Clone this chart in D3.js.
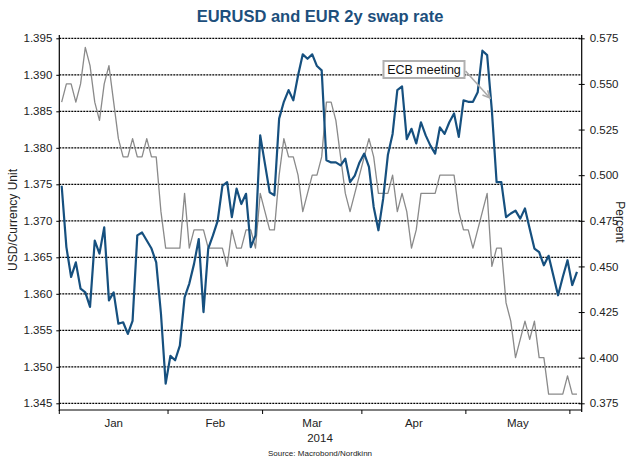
<!DOCTYPE html>
<html>
<head>
<meta charset="utf-8">
<script src="https://cdn.jsdelivr.net/npm/d3@7/dist/d3.min.js"></script>
<style>
  html, body { margin: 0; padding: 0; background: #fff; }
  svg { display: block; font-family: "Liberation Sans", Arial, sans-serif; }
</style>
</head>
<body>
<svg id="chart" width="631" height="460"></svg>
<script>
// ---- Data (business days from 2014-01-01) ----
const eurusd = [
  1.3748, 1.3664, 1.3623, 1.3643, 1.3607, 1.3602, 1.3582, 1.3673, 1.3655, 1.3691,
  1.3591, 1.3602, 1.3559, 1.3561, 1.3545, 1.3563, 1.3680, 1.3684, 1.3673, 1.3662,
  1.3643, 1.3573, 1.3477, 1.3515, 1.3509, 1.3529, 1.3595, 1.3614, 1.3641, 1.3675,
  1.3575, 1.3662, 1.3680, 1.3700, 1.3748, 1.3753, 1.3705, 1.3744, 1.3723, 1.3737,
  1.3664, 1.3680, 1.3817, 1.3778, 1.3739, 1.3735, 1.3840, 1.3863, 1.3879, 1.3865,
  1.3899, 1.3928, 1.3922, 1.3928, 1.3912, 1.3906, 1.3783, 1.3780, 1.3780, 1.3776,
  1.3785, 1.3753, 1.3762, 1.3780, 1.3792, 1.3774, 1.3719, 1.3687, 1.3730, 1.3790,
  1.3819, 1.3879, 1.3884, 1.3812, 1.3826, 1.3806, 1.3835, 1.3817, 1.3803, 1.3792,
  1.3828, 1.3819, 1.3835, 1.3847, 1.3815, 1.3865, 1.3863, 1.3863, 1.3876, 1.3933,
  1.3927, 1.3851, 1.3753, 1.3753, 1.3705, 1.3710, 1.3714, 1.3703, 1.3717, 1.3689,
  1.3662, 1.3657, 1.3639, 1.3652, 1.3625, 1.3598, 1.3623, 1.3646, 1.3612, 1.3630
];
const swap2y = [
  0.54, 0.55, 0.55, 0.54, 0.55, 0.57, 0.56, 0.54, 0.53, 0.55,
  0.56, 0.54, 0.52, 0.51, 0.51, 0.52, 0.51, 0.51, 0.52, 0.51,
  0.51, 0.48, 0.46, 0.46, 0.46, 0.46, 0.49, 0.46, 0.47, 0.47,
  0.47, 0.46, 0.46, 0.46, 0.46, 0.45, 0.47, 0.46, 0.46, 0.47,
  0.47, 0.46, 0.49, 0.48, 0.47, 0.47, 0.50, 0.52, 0.51, 0.51,
  0.50, 0.48, 0.49, 0.50, 0.50, 0.51, 0.54, 0.54, 0.53, 0.51,
  0.49, 0.48, 0.49, 0.50, 0.51, 0.52, 0.51, 0.49, 0.49, 0.49,
  0.50, 0.48, 0.49, 0.48, 0.46, 0.47, 0.49, 0.49, 0.49, 0.49,
  0.50, 0.50, 0.50, 0.50, 0.48, 0.47, 0.47, 0.46, 0.47, 0.48,
  0.49, 0.45, 0.46, 0.46, 0.43, 0.42, 0.40, 0.41, 0.42, 0.41,
  0.42, 0.40, 0.40, 0.38, 0.38, 0.38, 0.38, 0.39, 0.38, 0.38
];
const leftTicks = [1.345, 1.350, 1.355, 1.360, 1.365, 1.370, 1.375, 1.380, 1.385, 1.390, 1.395];
const rightTicks = [0.375, 0.400, 0.425, 0.450, 0.475, 0.500, 0.525, 0.550, 0.575];
const titleText = "EURUSD and EUR 2y swap rate";
const yearLabel = "2014";
const sourceText = "Source: Macrobond/Nordkinn";
const annotationText = "ECB meeting";
const annotationDate = "2014-05-08";

// business-day dates
const dates = [];
{
  let d = new Date(2014, 0, 1);
  while (dates.length < eurusd.length) {
    const wd = d.getDay();
    if (wd !== 0 && wd !== 6) dates.push(new Date(d));
    d = d3.timeDay.offset(d, 1);
  }
}

// ---- Layout ----
const svg = d3.select("#chart");
const L = 59.3, R = 581.7, T = 38.3, B = 403.3, AXY = 410;
const BLUE = "#16507f";
const GREY = "#8a8a8a";

const x = d3.scaleLinear().domain([-0.5, 110]).range([L, R]);
const yL = d3.scaleLinear().domain([1.345, 1.395]).range([B, T]);
const yR = d3.scaleLinear().domain([0.375, 0.575]).range([B, T]);

svg.append("rect").attr("width", 631).attr("height", 460).attr("fill", "#fff");

// title
svg.append("text").attr("x", 320).attr("y", 22).attr("text-anchor", "middle")
  .attr("font-size", 16.5).attr("font-weight", "bold").attr("fill", "#1d4f7c")
  .text(titleText);

// gridlines
svg.append("g").selectAll("line").data(leftTicks).join("line")
  .attr("x1", L).attr("x2", R)
  .attr("y1", d => yL(d)).attr("y2", d => yL(d))
  .attr("stroke", "#000").attr("stroke-width", 1.3).attr("stroke-dasharray", "2,1");

// left axis
const gL = svg.append("g").attr("transform", `translate(${L},0)`)
  .call(d3.axisLeft(yL).tickValues(leftTicks).tickSize(3).tickPadding(4).tickFormat(d3.format(".3f")));
gL.select(".domain").remove();
gL.selectAll("text").attr("font-size", 11.5).attr("fill", "#222").attr("font-family", "Liberation Sans, Arial, sans-serif");
gL.selectAll(".tick line").attr("stroke", "#000");
svg.append("line").attr("x1", L).attr("x2", L).attr("y1", 35).attr("y2", AXY + 1).attr("stroke", "#000").attr("stroke-width", 1.2);

// right axis
const gR = svg.append("g").attr("transform", `translate(${R},0)`)
  .call(d3.axisRight(yR).tickValues(rightTicks).tickSize(3).tickPadding(5).tickFormat(d3.format(".3f")));
gR.select(".domain").remove();
gR.selectAll(".tick line").attr("x1", -3).attr("x2", 3).attr("stroke", "#000");
gR.selectAll("text").attr("font-size", 11.5).attr("fill", "#222").attr("font-family", "Liberation Sans, Arial, sans-serif");
svg.append("line").attr("x1", R).attr("x2", R).attr("y1", 35).attr("y2", AXY + 2).attr("stroke", "#000").attr("stroke-width", 1.2);

// x axis
svg.append("line").attr("x1", L).attr("x2", R).attr("y1", AXY).attr("y2", AXY).attr("stroke", "#000").attr("stroke-width", 1.2);
const monthStarts = [];
dates.forEach((d, i) => { if (i === 0 || d.getMonth() !== dates[i - 1].getMonth()) monthStarts.push(i); });
svg.append("g").selectAll("line").data(monthStarts).join("line")
  .attr("x1", i => x(i - 0.5)).attr("x2", i => x(i - 0.5))
  .attr("y1", AXY).attr("y2", AXY + 4).attr("stroke", "#000").attr("stroke-width", 1);
const fmtMonth = d3.timeFormat("%b");
const monthLabels = monthStarts.slice(0, -1).map((s, k) => ({ s, e: monthStarts[k + 1], label: fmtMonth(dates[s]) }));
svg.append("g").selectAll("text").data(monthLabels).join("text")
  .attr("x", m => (x(m.s - 0.5) + x(m.e - 0.5)) / 2).attr("y", 427)
  .attr("text-anchor", "middle").attr("font-size", 11.5).attr("fill", "#222")
  .text(m => m.label);
svg.append("text").attr("x", 320).attr("y", 442).attr("text-anchor", "middle")
  .attr("font-size", 11.5).attr("fill", "#222").text(yearLabel);
svg.append("text").attr("x", 320).attr("y", 456).attr("text-anchor", "middle")
  .attr("font-size", 8).attr("fill", "#222").text(sourceText);

// axis titles
svg.append("text").attr("transform", "translate(17,220) rotate(-90)").attr("text-anchor", "middle")
  .attr("font-size", 12).attr("fill", "#222").text("USD/Currency Unit");
svg.append("text").attr("transform", "translate(616,222) rotate(90)").attr("text-anchor", "middle")
  .attr("font-size", 12).attr("fill", "#222").text("Percent");

// lines
svg.append("path").datum(swap2y)
  .attr("d", d3.line().x((d, i) => x(i)).y(d => yR(d)))
  .attr("fill", "none").attr("stroke", GREY).attr("stroke-width", 1.3).attr("stroke-linejoin", "round");
svg.append("path").datum(eurusd)
  .attr("d", d3.line().x((d, i) => x(i)).y(d => yL(d)))
  .attr("fill", "none").attr("stroke", BLUE).attr("stroke-width", 2.2).attr("stroke-linejoin", "round");

// annotation
const annIdx = dates.findIndex(d => d3.timeFormat("%Y-%m-%d")(d) === annotationDate);
const tipX = x(annIdx) - 2, tipY = 98;
const boxX = 383.5, boxY = 61, boxW = 81, boxH = 17;
const sx = boxX + boxW + 1, sy = 71;
svg.append("line").attr("x1", sx).attr("y1", sy).attr("x2", tipX).attr("y2", tipY)
  .attr("stroke", "#aaa").attr("stroke-width", 1.6);
{
  const ang = Math.atan2(tipY - sy, tipX - sx);
  const len = 8, spread = 0.45;
  const p1 = [tipX - len * Math.cos(ang - spread), tipY - len * Math.sin(ang - spread)];
  const p2 = [tipX - len * Math.cos(ang + spread), tipY - len * Math.sin(ang + spread)];
  svg.append("path").attr("d", `M${p1[0]},${p1[1]}L${tipX},${tipY}L${p2[0]},${p2[1]}`)
    .attr("fill", "none").attr("stroke", "#aaa").attr("stroke-width", 1.6);
}
svg.append("rect").attr("x", boxX).attr("y", boxY).attr("width", boxW).attr("height", boxH)
  .attr("fill", "#fff").attr("stroke", "#b0b0b0").attr("stroke-width", 2);
svg.append("text").attr("x", boxX + boxW / 2).attr("y", boxY + 13).attr("text-anchor", "middle")
  .attr("font-size", 12.5).attr("fill", "#111").text(annotationText);
</script>
</body>
</html>
